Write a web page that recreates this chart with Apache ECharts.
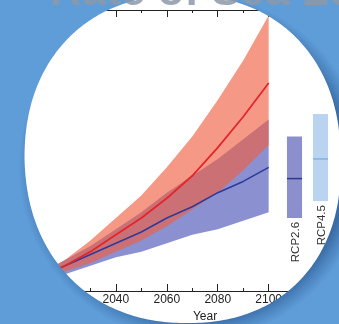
<!DOCTYPE html>
<html><head><meta charset="utf-8">
<script src="https://cdn.jsdelivr.net/npm/echarts@6/dist/echarts.min.js"></script>
<style>html,body{margin:0;padding:0;background:#5f9dd8;overflow:hidden}#c{width:339px;height:324px}</style>
</head><body><div id="c"></div>
<script>
// ---- data ----
const years = [2006, 2010, 2020, 2030, 2040, 2050, 2060, 2070, 2080, 2090, 2100];
const rcp26Mean = [0.03, 0.05, 0.09, 0.13, 0.17, 0.21, 0.26, 0.30, 0.35, 0.39, 0.44];
const rcp26Low  = [0.02, 0.04, 0.06, 0.09, 0.12, 0.14, 0.17, 0.20, 0.22, 0.25, 0.28];
const rcp26High = [0.04, 0.06, 0.11, 0.16, 0.22, 0.28, 0.35, 0.41, 0.47, 0.54, 0.61];
const rcp85Mean = [0.03, 0.05, 0.09, 0.14, 0.20, 0.26, 0.33, 0.41, 0.51, 0.62, 0.74];
const rcp85Low  = [0.02, 0.04, 0.07, 0.10, 0.14, 0.18, 0.23, 0.29, 0.35, 0.43, 0.52];
const rcp85High = [0.04, 0.06, 0.11, 0.18, 0.26, 0.34, 0.44, 0.55, 0.68, 0.82, 0.98];
const barCats = ['RCP2.6', 'RCP4.5', 'RCP6.0', 'RCP8.5'];
const barMean = [0.40, 0.47, 0.48, 0.63];
const barLow  = [0.26, 0.32, 0.33, 0.45];
const barHigh = [0.55, 0.63, 0.63, 0.82];
const xAxisTitle = 'Year';
const slideTitle = 'Rate of Sea Level Rise';

// ---- styles ----
const barFill = ['#8b8fcc', '#b9d3f0', '#f7d8ae', '#f0a49c'];
const barLine = ['#2b3a8f', '#88b1dd', '#e3a35a', '#c0282c'];
const BG = '#5f9dd8';
const FONT = '"Liberation Sans", Arial, sans-serif';

const chart = echarts.init(document.getElementById('c'));

// rounded "window" mask (superellipse, lower half slightly sheared right)
const cx = 182.5, cy = 159, ra = 158, rb = 164, n = 2.2, N = 180, shear = 0.03;
function pt(t) {
  const c = Math.cos(t), s = Math.sin(t);
  const y = cy + rb * Math.sign(s) * Math.pow(Math.abs(s), 2 / n);
  const x = cx + ra * Math.sign(c) * Math.pow(Math.abs(c), 2 / n) + (y > cy ? shear * (y - cy) : 0);
  return [x, y];
}
function arc(t0, t1) {
  const pts = [];
  for (let k = 0; k <= N; k++) pts.push(pt(t0 + (t1 - t0) * k / N));
  return pts;
}
const topPts = [[-30, cy + 2], [-30, -30], [370, -30], [370, cy + 2]].concat(arc(0, -Math.PI));
const botPts = [[-30, cy - 2]].concat(arc(Math.PI, 0)).concat([[370, cy - 2], [370, 360], [-30, 360]]);
const maskFill = new echarts.graphic.RadialGradient(cx + 10, cy + 8, 200, [
  {offset: 0, color: '#3b6ca4'},
  {offset: 0.77, color: '#3b6ca4'},
  {offset: 0.81, color: '#4a82bd'},
  {offset: 0.87, color: BG},
  {offset: 1, color: BG}
], true);

const pair = (xs, ys) => xs.map((x, i) => [x, ys[i]]);

function bandSeries(lo, hi, color) {
  return {
    type: 'custom', xAxisIndex: 0, yAxisIndex: 0, silent: true,
    data: years.map((y, i) => [y, lo[i], hi[i]]),
    encode: {x: 0, y: [1, 2]},
    renderItem: (params, api) => {
      if (params.dataIndex !== 0) return null;
      const upper = years.map((y, i) => api.coord([y, hi[i]]));
      const lower = years.map((y, i) => api.coord([y, lo[i]])).reverse();
      return {type: 'polygon', shape: {points: upper.concat(lower)}, style: {fill: color}};
    }
  };
}

const option = {
  backgroundColor: '#ffffff',
  animation: false,
  grid: [
    {left: 14, top: 10, width: 382, height: 281, containLabel: false, outerBoundsMode: 'none'},
    {left: 281.5, top: 10, width: 104, height: 281, containLabel: false, outerBoundsMode: 'none'}
  ],
  xAxis: [
    {
      gridIndex: 0, type: 'value', min: 2000, max: 2150, interval: 20, position: 'bottom',
      axisLine: {lineStyle: {color: '#222', width: 1}},
      axisTick: {inside: true, length: 7, lineStyle: {color: '#222'}},
      minorTick: {show: true, splitNumber: 2, length: 3, lineStyle: {color: '#222'}},
      axisLabel: {margin: 3, fontSize: 12, color: '#222', fontFamily: FONT,
        formatter: v => (v <= 2100 ? String(v) : '')},
      splitLine: {show: false},
      name: xAxisTitle, nameLocation: 'middle', nameGap: 17,
      nameTextStyle: {fontSize: 12, color: '#222', fontFamily: FONT}
    },
    {
      gridIndex: 0, type: 'value', min: 2000, max: 2150, interval: 20, position: 'top',
      axisLine: {lineStyle: {color: '#222', width: 1}},
      axisTick: {inside: true, length: 7, lineStyle: {color: '#222'}},
      minorTick: {show: true, splitNumber: 2, length: 3, lineStyle: {color: '#222'}},
      axisLabel: {show: false}, splitLine: {show: false}
    },
    {gridIndex: 1, type: 'category', data: barCats, show: false}
  ],
  yAxis: [
    {gridIndex: 0, type: 'value', min: 0, max: 1, interval: 0.2,
      axisLine: {show: true, lineStyle: {color: '#222'}},
      axisTick: {show: true, inside: true, lineStyle: {color: '#222'}},
      axisLabel: {show: false}, splitLine: {show: false}},
    {gridIndex: 1, type: 'value', min: 0, max: 1, show: false, splitLine: {show: false}}
  ],
  series: [
    bandSeries(rcp26Low, rcp26High, 'rgba(118,124,200,0.85)'),
    bandSeries(rcp85Low, rcp85High, 'rgba(240,96,66,0.64)'),
    {type: 'line', xAxisIndex: 0, yAxisIndex: 0, data: pair(years, rcp26Mean), symbol: 'none',
      lineStyle: {color: '#2e3b9c', width: 1.6}, silent: true},
    {type: 'line', xAxisIndex: 0, yAxisIndex: 0, data: pair(years, rcp85Mean), symbol: 'none',
      lineStyle: {color: '#e3262c', width: 1.8}, silent: true},
    {
      type: 'custom', xAxisIndex: 2, yAxisIndex: 1, silent: true,
      data: barCats.map((c, i) => [i, barLow[i], barHigh[i], barMean[i]]),
      encode: {x: 0, y: [1, 2]},
      renderItem: (params, api) => {
        const i = api.value(0);
        const lo = api.coord([i, api.value(1)]);
        const hi = api.coord([i, api.value(2)]);
        const mn = api.coord([i, api.value(3)]);
        const w = api.size([1, 0])[0] * 0.58;
        return {type: 'group', children: [
          {type: 'rect', shape: {x: lo[0] - w / 2, y: hi[1], width: w, height: lo[1] - hi[1]},
            style: {fill: barFill[i]}},
          {type: 'line', shape: {x1: lo[0] - w / 2, y1: mn[1], x2: lo[0] + w / 2, y2: mn[1]},
            style: {stroke: barLine[i], lineWidth: 1.5}},
          {type: 'text', x: lo[0] + 1, y: lo[1] + 4, rotation: Math.PI / 2,
            style: {text: barCats[i], align: 'right', textAlign: 'right', verticalAlign: 'middle',
              textVerticalAlign: 'middle', font: '11.5px ' + FONT, fill: '#333'}}
        ]};
      }
    }
  ],
  graphic: {elements: [
    {type: 'polygon', z: 100, silent: true, shape: {points: topPts}, style: {fill: maskFill}},
    {type: 'polygon', z: 100, silent: true, shape: {points: botPts}, style: {fill: maskFill}},
    {type: 'text', z: 101, silent: true, x: 50, y: 15,
      style: {text: slideTitle, font: 'bold 44px ' + FONT, fill: '#8d99a7', opacity: 0.85,
        align: 'left', verticalAlign: 'bottom', textAlign: 'left', textVerticalAlign: 'bottom'}}
  ]}
};
chart.setOption(option);
</script></body></html>
